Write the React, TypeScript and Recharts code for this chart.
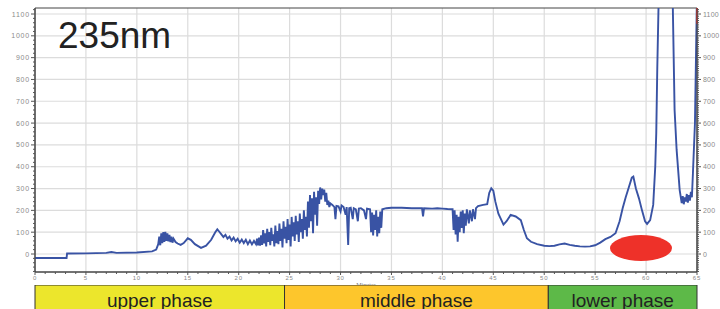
import React from "react";
import {
  LineChart,
  Line,
  XAxis,
  YAxis,
  CartesianGrid,
  ReferenceDot,
  ReferenceArea,
  ReferenceLine,
  BarChart,
  Bar,
  LabelList,
} from "recharts";

// trace pieces, [minutes, mAU]
const baseline = [
  [0, -18], [3.1, -18], [3.15, 2], [5, 3], [7, 5], [7.5, 9], [8, 5], [10, 7], [11.5, 12], [11.9, 20],
];
const firstBumps = [
  [12.1, 45], [12.2, 80], [12.3, 40], [12.4, 95], [12.5, 50], [12.6, 100], [12.7, 55], [12.8, 102],
  [12.9, 60], [13.0, 95], [13.1, 58], [13.2, 88], [13.3, 55], [13.4, 80], [13.5, 52], [13.6, 70],
  [13.8, 55], [14.0, 48], [14.3, 42], [14.6, 50], [15.0, 72], [15.3, 65], [15.7, 45], [16.3, 28],
  [16.8, 38], [17.3, 65], [17.7, 100], [17.9, 113], [18.1, 102], [18.3, 90], [18.5, 78], [18.7, 88],
  [18.9, 70], [19.1, 80], [19.3, 62], [19.5, 75], [19.7, 58], [19.9, 70], [20.1, 52], [20.3, 66],
  [20.5, 50], [20.7, 65], [20.9, 45], [21.1, 62], [21.3, 44], [21.5, 60],
];
const noisyRise = [
  [21.7, 45], [21.8, 70], [21.9, 40], [22.0, 75], [22.1, 38], [22.2, 85], [22.3, 42], [22.4, 110],
  [22.5, 48], [22.6, 95], [22.7, 35], [22.8, 115], [22.9, 55], [23.0, 100], [23.1, 40], [23.2, 120],
  [23.3, 60], [23.4, 90], [23.5, 35], [23.6, 130], [23.7, 50], [23.8, 105], [23.9, 45], [24.0, 140],
  [24.1, 60], [24.2, 115], [24.3, 30], [24.4, 150], [24.5, 70], [24.6, 125], [24.7, 50], [24.8, 160],
  [24.9, 65], [25.0, 135], [25.1, 35], [25.2, 170], [25.3, 80], [25.4, 145], [25.5, 60], [25.6, 175],
  [25.7, 90], [25.8, 150], [25.9, 55], [26.0, 185], [26.1, 100], [26.2, 160], [26.3, 70], [26.4, 200],
  [26.5, 110], [26.6, 170], [26.7, 80], [26.8, 240], [26.9, 120], [27.0, 270], [27.1, 150], [27.2, 255],
  [27.3, 95], [27.4, 285], [27.5, 180], [27.6, 260], [27.7, 130], [27.8, 290], [27.9, 230], [28.0, 305],
  [28.1, 250], [28.2, 300], [28.3, 270], [28.4, 295], [28.5, 240], [28.6, 280], [28.7, 225], [28.8, 245],
  [28.9, 215], [29.0, 232],
];
const plateau = [
  [29.2, 225], [29.4, 215], [29.5, 160], [29.6, 220], [29.8, 218], [30.0, 195], [30.1, 222], [30.3, 215],
  [30.5, 180], [30.6, 215], [30.75, 41], [30.85, 210], [31.0, 212], [31.2, 160], [31.3, 210], [31.5, 205],
  [31.7, 150], [31.8, 208], [32.0, 210], [32.3, 200], [32.5, 160], [32.6, 208], [32.9, 205], [33.0, 100],
  [33.1, 190], [33.2, 85], [33.3, 180], [33.4, 110], [33.5, 200], [33.6, 80], [33.7, 170], [33.8, 95],
  [33.9, 195], [34.0, 120], [34.1, 205], [34.5, 210], [35, 212], [36, 212], [37, 210], [38, 210],
  [38.1, 172], [38.2, 210], [39, 208], [39.5, 210], [40, 208], [40.5, 206], [41.0, 205], [41.1, 110],
  [41.2, 200], [41.3, 90], [41.4, 180], [41.5, 56], [41.6, 170], [41.7, 100], [41.8, 195], [41.9, 120],
  [42.0, 200], [42.1, 95], [42.2, 185], [42.3, 130], [42.4, 205], [42.6, 140], [42.7, 200], [42.9, 150],
  [43.0, 205], [43.2, 160], [43.3, 210], [43.5, 220], [44, 225], [44.4, 228],
];
const lowerPeaks = [
  [44.6, 280], [44.8, 301], [45.0, 290], [45.2, 240], [45.5, 185], [46.0, 135], [46.3, 150], [46.7, 179],
  [47.2, 172], [47.7, 155], [48.0, 110], [48.3, 72], [48.7, 56], [49.3, 45], [50, 38], [50.5, 36],
  [51, 38], [51.5, 44], [52, 48], [52.5, 42], [53, 38], [53.5, 35], [54, 34], [54.5, 35], [55, 40],
  [55.5, 52], [56, 68], [56.5, 78], [57, 95], [57.4, 150], [57.7, 210], [58.0, 260], [58.3, 305],
  [58.6, 350], [58.75, 355], [59.0, 300], [59.3, 255], [59.6, 200], [59.9, 150], [60.1, 138], [60.4, 155],
  [60.7, 225], [60.9, 400], [61.0, 555], [61.1, 850], [61.25, 1200], [61.6, 1600], [62.2, 1600],
  [62.6, 1200], [62.8, 660], [63.0, 477], [63.3, 293], [63.5, 233], [63.6, 265], [63.7, 228], [63.8, 260],
  [63.9, 240], [64.0, 275], [64.1, 235], [64.2, 270], [64.3, 245], [64.4, 285], [64.5, 260], [64.6, 370],
  [64.8, 600], [64.95, 1050], [65, 1200],
];

const yMajor = [0, 100, 200, 300, 400, 500, 600, 700, 800, 900, 1000, 1100];
const xMajor = [0, 5, 10, 15, 20, 25, 30, 35, 40, 45, 50, 55, 60, 65];

const phaseNames = ["upper phase", "middle phase", "lower phase"];
const phaseLengths = [24.5, 25.9, 14.6];
const phaseColors = ["#ece62c", "#fdc62c", "#5db948"];

const traceData = [...baseline, ...firstBumps, ...noisyRise, ...plateau, ...lowerPeaks].map(
  ([t, v]) => ({ t, v })
);

const Y_MIN = -82.5;
const Y_MAX = 1127.5;
const PLOT_LEFT = 35;
const PLOT_RIGHT = 697;

const leftTicks: number[] = [];
for (let v = -80; v <= 1120; v += 20) leftTicks.push(v);
const rightTicks: number[] = [];
for (let v = -80; v <= 1120; v += 10) rightTicks.push(v);
const xTicks: number[] = [];
for (let m = 0; m <= 65; m++) xTicks.push(m);

const tickFont = { fontSize: 7, fill: "#8a8a8a", fontFamily: "Liberation Sans, Arial, sans-serif" };

const LeftTick = (props: any) => {
  const { y, payload } = props;
  const major = payload.value % 100 === 0;
  return (
    <g>
      <line x1={PLOT_LEFT} x2={PLOT_LEFT - (major ? 4 : 2)} y1={y} y2={y} stroke="#555" />
      {major && (
        <text x={PLOT_LEFT - 5} y={y + 2.5} textAnchor="end" letterSpacing={0.8} {...tickFont}>
          {payload.value}
        </text>
      )}
    </g>
  );
};

const RightTick = (props: any) => {
  const { y, payload } = props;
  const major = payload.value % 100 === 0;
  return (
    <g>
      <line x1={PLOT_RIGHT} x2={PLOT_RIGHT + (major ? 4 : 2)} y1={y} y2={y} stroke="#555" />
      {major && (
        <text x={PLOT_RIGHT + 6} y={y + 2.5} textAnchor="start" letterSpacing={0.2} {...tickFont}>
          {payload.value}
        </text>
      )}
    </g>
  );
};

const BottomTick = (props: any) => {
  const { x, payload } = props;
  const major = payload.value % 5 === 0;
  return (
    <g>
      <line x1={x} x2={x} y1={272} y2={major ? 275 : 274} stroke="#555" />
      {major && (
        <text x={x} y={279.5} textAnchor="middle" letterSpacing={0.8} {...tickFont} fontSize={6}>
          {payload.value}
        </text>
      )}
    </g>
  );
};

const Ellipse = (props: any) => (
  <ellipse cx={props.cx} cy={props.cy} rx={31} ry={13} fill="#ee3129" />
);

const phaseRow = [
  phaseNames.reduce((row: any, name, i) => ({ ...row, [name]: phaseLengths[i] }), { name: "phase" }),
];

const PhaseLabel = (props: any) => {
  const { x, y, width, value } = props;
  return (
    <text
      x={x + width / 2}
      y={y + 21.5}
      textAnchor="middle"
      fontSize={19}
      fill="#222"
      fontFamily="Liberation Sans, Arial, sans-serif"
    >
      {value}
    </text>
  );
};

export default function App() {
  return (
    <div style={{ position: "absolute", left: 0, top: 0, width: 720, height: 309, background: "#fff", overflow: "hidden" }}>
      <LineChart width={720} height={290} data={traceData} margin={{ top: 8, right: 0, bottom: 0, left: 0 }}>
        <CartesianGrid
          horizontalValues={yMajor}
          verticalValues={xMajor}
          stroke="#dcdcdc"
          strokeWidth={1.2}
        />
        <XAxis
          dataKey="t"
          type="number"
          domain={[0, 65]}
          ticks={xTicks}
          interval={0}
          height={18}
          tickLine={false}
          axisLine={{ stroke: "#444" }}
          tick={<BottomTick />}
          label={{ value: "Minutes", position: "insideBottom", offset: 3, fontSize: 6, fill: "#777" }}
        />
        <YAxis
          type="number"
          domain={[Y_MIN, Y_MAX]}
          allowDataOverflow
          ticks={leftTicks}
          interval={0}
          width={35}
          tickLine={false}
          axisLine={{ stroke: "#444" }}
          tick={<LeftTick />}
        />
        <YAxis
          yAxisId="right"
          orientation="right"
          type="number"
          domain={[Y_MIN, Y_MAX]}
          allowDataOverflow
          ticks={rightTicks}
          interval={0}
          width={23}
          tickLine={false}
          axisLine={{ stroke: "#444" }}
          tick={<RightTick />}
        />
        <ReferenceArea
          yAxisId="right"
          x1={0}
          x2={65}
          y1={Y_MIN}
          y2={Y_MAX}
          fill="none"
          stroke="#444"
          strokeWidth={1}
          ifOverflow="visible"
        />
        <Line
          dataKey="v"
          type="linear"
          stroke="#3953a4"
          strokeWidth={1.9}
          dot={false}
          isAnimationActive={false}
        />
        <ReferenceLine
          yAxisId="right"
          segment={[{ x: 65, y: 1055 }, { x: 65, y: Y_MAX }]}
          stroke="#e03030"
          strokeWidth={2}
        />
        <ReferenceDot x={59.5} y={27} r={13} shape={<Ellipse />} ifOverflow="visible" />
      </LineChart>

      <div
        style={{
          position: "absolute",
          left: 58,
          top: 17,
          fontSize: 37,
          lineHeight: "37px",
          color: "#222",
          fontFamily: "Liberation Sans, Arial, sans-serif",
        }}
      >
        235nm
      </div>

      <div style={{ position: "absolute", left: 0, top: 285 }}>
        <BarChart
          width={720}
          height={30}
          layout="vertical"
          data={phaseRow}
          barCategoryGap={0}
          margin={{ top: 0, right: 23, bottom: 0, left: 35 }}
        >
          <XAxis type="number" domain={[0, 65]} hide />
          <YAxis type="category" dataKey="name" hide />
          {phaseNames.map((name, i) => (
            <Bar
              key={name}
              dataKey={name}
              stackId="phase"
              fill={phaseColors[i]}
              stroke="#333"
              strokeWidth={1}
              isAnimationActive={false}
            >
              <LabelList dataKey={() => name} content={<PhaseLabel />} />
            </Bar>
          ))}
        </BarChart>
      </div>
    </div>
  );
}
